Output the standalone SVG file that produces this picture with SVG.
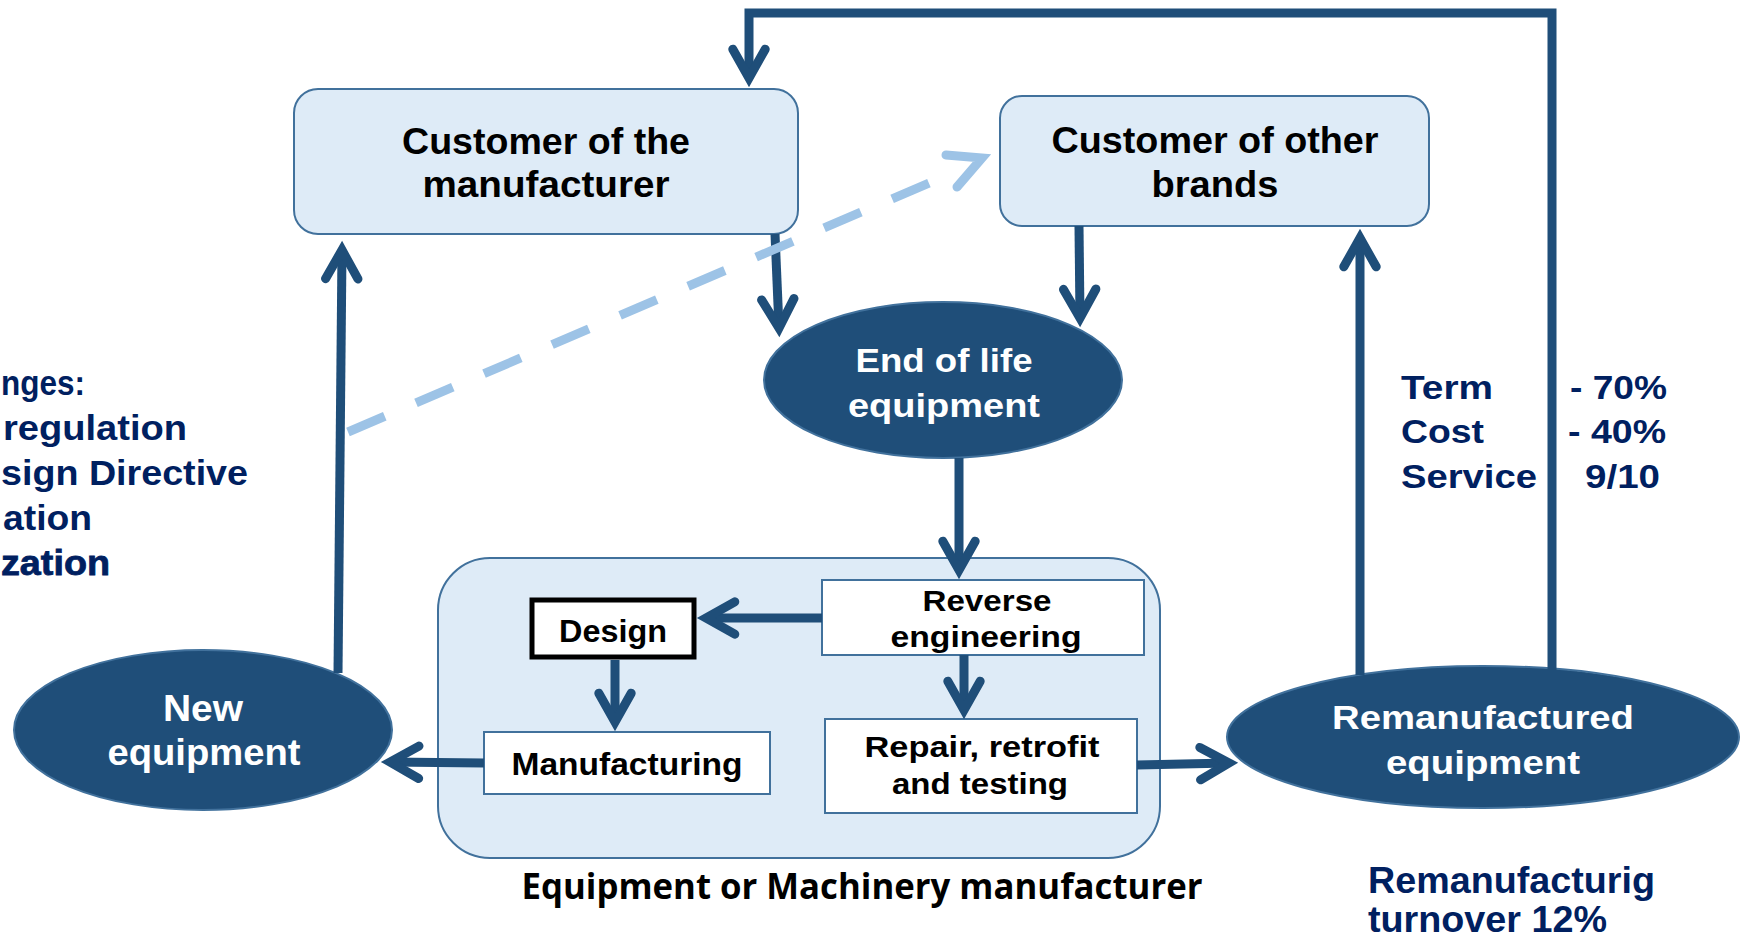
<svg xmlns="http://www.w3.org/2000/svg" width="1746" height="939" viewBox="0 0 1746 939">
<style>
.box{fill:#DEEBF7;stroke:#41719C;stroke-width:2}
.wbox{fill:#FFFFFF;stroke:#41719C;stroke-width:2}
.ell{fill:#1F4E79;stroke:#41719C;stroke-width:2}
.t{font-family:"Liberation Sans",Arial,sans-serif;font-weight:bold;text-anchor:middle;fill:#000}
.tw{font-family:"Liberation Sans",Arial,sans-serif;font-weight:bold;text-anchor:middle;fill:#FFFFFF}
.tn{font-family:"Liberation Sans",Arial,sans-serif;font-weight:bold;fill:#002060}
.c{fill:none;stroke:#1F4E79;stroke-width:9;stroke-linejoin:miter;marker-end:url(#ah)}
.d{fill:none;stroke:#9DC3E6;stroke-width:9}
</style>
<defs>
<marker id="ah" markerUnits="strokeWidth" markerWidth="6" markerHeight="6" viewBox="-4 -3 6 6" refX="0" refY="0" orient="auto" overflow="visible">
<path d="M -3.2 -1.8 L 0 0 L -3.2 1.8" fill="none" stroke="#1F4E79" stroke-width="1" stroke-linecap="round" stroke-linejoin="miter"/>
</marker>
</defs>
<rect width="1746" height="939" fill="#FFFFFF"/>

<g id="left-notes" class="tn" font-size="35">
<text x="1" y="395" textLength="84" lengthAdjust="spacingAndGlyphs">nges:</text>
<text x="3" y="440" textLength="184" lengthAdjust="spacingAndGlyphs">regulation</text>
<text x="1" y="485" textLength="247" lengthAdjust="spacingAndGlyphs">sign Directive</text>
<text x="3" y="530" textLength="89" lengthAdjust="spacingAndGlyphs">ation</text>
<text x="1" y="575" textLength="109" lengthAdjust="spacingAndGlyphs" stroke="#002060" stroke-width="0.8">zation</text>
</g>

<g id="manufacturer-group">
<rect class="box" x="438" y="558" width="722" height="300" rx="52" ry="52"/>
<text x="862" y="899" font-family="'Open Sans','Liberation Sans',sans-serif" font-weight="bold" font-size="35" text-anchor="middle" fill="#000" textLength="681" lengthAdjust="spacingAndGlyphs">Equipment or Machinery manufacturer</text>
</g>

<g id="customer-manufacturer">
<rect class="box" x="294" y="89" width="504" height="145" rx="24" ry="24"/>
<text class="t" x="546" y="154" font-size="36" textLength="288" lengthAdjust="spacingAndGlyphs">Customer of the</text>
<text class="t" x="546" y="197" font-size="36" textLength="247" lengthAdjust="spacingAndGlyphs">manufacturer</text>
</g>

<g id="customer-other">
<rect class="box" x="1000" y="96" width="429" height="130" rx="22" ry="22"/>
<text class="t" x="1215" y="153" font-size="36" textLength="327" lengthAdjust="spacingAndGlyphs">Customer of other</text>
<text class="t" x="1215" y="197" font-size="36" textLength="127" lengthAdjust="spacingAndGlyphs">brands</text>
</g>

<g id="end-of-life">
<ellipse class="ell" cx="943" cy="380" rx="179" ry="78"/>
<text class="tw" x="944" y="372" font-size="34" textLength="177" lengthAdjust="spacingAndGlyphs">End of life</text>
<text class="tw" x="944" y="417" font-size="34" textLength="192" lengthAdjust="spacingAndGlyphs">equipment</text>
</g>

<g id="reverse-engineering">
<rect class="wbox" x="822" y="580" width="322" height="75"/>
<text class="t" x="987" y="611" font-size="29" textLength="129" lengthAdjust="spacingAndGlyphs">Reverse</text>
<text class="t" x="986" y="647" font-size="29" textLength="191" lengthAdjust="spacingAndGlyphs">engineering</text>
</g>

<g id="design">
<rect x="532" y="600" width="162" height="57" fill="#FFFFFF" stroke="#000" stroke-width="5"/>
<text class="t" x="613" y="642" font-size="31" textLength="108" lengthAdjust="spacingAndGlyphs">Design</text>
</g>

<g id="manufacturing">
<rect class="wbox" x="484" y="732" width="286" height="62"/>
<text class="t" x="627" y="775" font-size="31" textLength="231" lengthAdjust="spacingAndGlyphs">Manufacturing</text>
</g>

<g id="repair">
<rect class="wbox" x="825" y="719" width="312" height="94"/>
<text class="t" x="982" y="757" font-size="29" textLength="235" lengthAdjust="spacingAndGlyphs">Repair, retrofit</text>
<text class="t" x="980" y="794" font-size="29" textLength="176" lengthAdjust="spacingAndGlyphs">and testing</text>
</g>

<g id="new-equipment">
<ellipse class="ell" cx="203" cy="730" rx="189" ry="80"/>
<text class="tw" x="203" y="721" font-size="36" textLength="80" lengthAdjust="spacingAndGlyphs">New</text>
<text class="tw" x="204" y="765" font-size="36" textLength="193" lengthAdjust="spacingAndGlyphs">equipment</text>
</g>

<g id="remanufactured-equipment">
<ellipse class="ell" cx="1483" cy="737" rx="256" ry="71"/>
<text class="tw" x="1483" y="729" font-size="34" textLength="302" lengthAdjust="spacingAndGlyphs">Remanufactured</text>
<text class="tw" x="1483" y="774" font-size="34" textLength="194" lengthAdjust="spacingAndGlyphs">equipment</text>
</g>

<g id="metrics" class="tn" font-size="34">
<text x="1401" y="399" textLength="92" lengthAdjust="spacingAndGlyphs">Term</text>
<text x="1401" y="443" textLength="83" lengthAdjust="spacingAndGlyphs">Cost</text>
<text x="1401" y="488" textLength="136" lengthAdjust="spacingAndGlyphs">Service</text>
<text x="1570" y="399" textLength="97" lengthAdjust="spacingAndGlyphs">- 70%</text>
<text x="1568" y="443" textLength="98" lengthAdjust="spacingAndGlyphs">- 40%</text>
<text x="1585" y="488" textLength="75" lengthAdjust="spacingAndGlyphs">9/10</text>
</g>

<g id="turnover" class="tn" font-size="36">
<text x="1368" y="893" textLength="287" lengthAdjust="spacingAndGlyphs">Remanufacturig</text>
<text x="1368" y="932" textLength="239" lengthAdjust="spacingAndGlyphs">turnover 12%</text>
</g>

<g id="connectors">
<path class="c" d="M1552 670 L1552 13 L749 13 L749 78"/>
<path class="c" d="M338 673 L342 250"/>
<path class="c" d="M775 234 L779 328"/>
<path class="c" d="M1079 226 L1080 318"/>
<path class="c" d="M959 458 L959 570"/>
<path class="c" d="M822 618 L706 618"/>
<path class="c" d="M615 660 L615 722"/>
<path class="c" d="M964 655 L964 710"/>
<path class="c" d="M484 763 L390 762"/>
<path class="c" d="M1137 765 L1229 763"/>
<path class="c" d="M1360 675 L1360 238"/>
<path class="d" d="M348 432 L929 183" stroke-dasharray="40 34"/>
<path class="d" d="M946 155 L982 158 L957 187" stroke-linecap="round" stroke-linejoin="miter"/>
</g>
</svg>
